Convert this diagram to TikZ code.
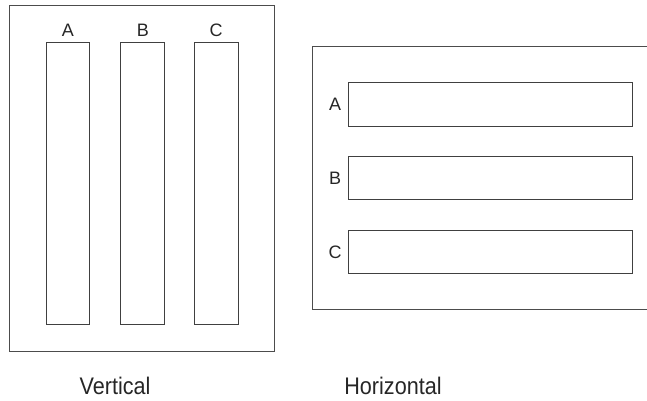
\documentclass[tikz,border=0pt]{standalone}
\usepackage{fontspec}
\setmainfont{Liberation Sans}
\newfontfamily\capfont[FakeStretch=0.9]{Liberation Sans}
\begin{document}
\begin{tikzpicture}[x=1pt,y=-1pt,
  frame/.style={draw=black!70,line width=1pt},
  slot/.style={draw=black!75,line width=1pt,rectangle,inner sep=0pt},
  lab/.style={font=\fontsize{18}{18}\selectfont,text=black!85,inner sep=0pt},
  captxt/.style={font=\capfont\fontsize{24}{24}\selectfont,text=black!85,inner sep=0pt}]
\useasboundingbox (0,0) rectangle (647,400);
% vertical frame
\draw[frame] (9.5,5) rectangle (274,351);
\node[slot,minimum width=43pt,minimum height=282pt] (va) at (67.5,183) {};
\node[slot,minimum width=44pt,minimum height=282pt] (vb) at (142,183) {};
\node[slot,minimum width=44pt,minimum height=282pt] (vc) at (216,183) {};
\node[lab] (la) at (68,30) {A};
\node[lab] (lb) at (143,30) {B};
\node[lab] (lc) at (216,30) {C};
% horizontal frame (open on the right)
\draw[frame] (648,46) -- (312,46) -- (312,309) -- (648,309);
\node[slot,minimum width=284pt,minimum height=44pt] (ha) at (490,104) {};
\node[slot,minimum width=284pt,minimum height=43pt] (hb) at (490,177.5) {};
\node[slot,minimum width=284pt,minimum height=43pt] (hc) at (490,251.5) {};
\node[lab] (ra) at (335,104) {A};
\node[lab] (rb) at (335,178) {B};
\node[lab] (rc) at (335,252) {C};
% captions
\node[captxt] (cv) at (115,386) {Vertical};
\node[captxt] (ch) at (393,386) {Horizontal};
\end{tikzpicture}
\end{document}
